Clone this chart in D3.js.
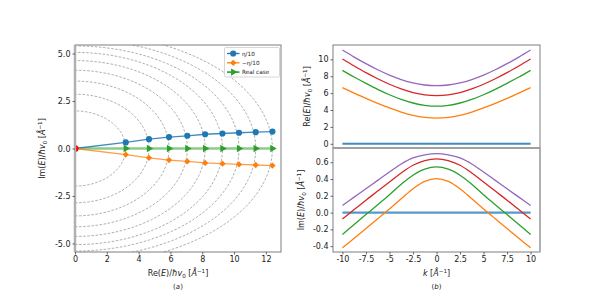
<!DOCTYPE html>
<html>
<head>
<meta charset="utf-8">
<script src="https://cdn.jsdelivr.net/npm/d3@7"></script>
<style>
  body { margin: 0; background: #fff; }
  text { font-family: "DejaVu Sans", sans-serif; fill: #222; }
</style>
</head>
<body>
<div class="chart"></div>
<script>
// left panel: complex energies
var reE = [0, 3.19, 4.65, 5.91, 7.06, 8.18, 9.27, 10.31, 11.36, 12.41];
var imPlus = [0, 0.32, 0.49, 0.60, 0.67, 0.75, 0.79, 0.83, 0.86, 0.89];
var imMinus = [0, -0.32, -0.49, -0.61, -0.68, -0.76, -0.80, -0.84, -0.87, -0.90];
var imReal = [0, 0, 0, 0, 0, 0, 0, 0, 0, 0];
// dashed guide curves: crossing on Re axis and on Im axis
var guideRe = [3.19, 4.65, 5.91, 7.06, 8.18, 9.27, 10.31, 11.36, 12.41];
var guideIm = [1.98, 2.86, 3.55, 4.12, 4.63, 5.06, 5.40, 5.75, 6.10];
var leftXTicks = [0, 2, 4, 6, 8, 10, 12];
var leftYTicks = [-5, -2.5, 0, 2.5, 5];
var legendLabels = ["η/10", "−η/10", "Real case"];

// right panels: bands vs k
var kVals = [-10, -8.75, -7.5, -6.25, -5, -3.75, -2.5, -1.25, 0, 1.25, 2.5, 3.75, 5, 6.25, 7.5, 8.75, 10];
var reBand0 = [0, 0, 0, 0, 0, 0, 0, 0, 0, 0, 0, 0, 0, 0, 0, 0, 0];
var reBand1 = [6.65, 6.00, 5.37, 4.78, 4.24, 3.76, 3.37, 3.12, 3.03, 3.12, 3.37, 3.76, 4.24, 4.78, 5.37, 6.00, 6.65];
var reBand2 = [8.70, 7.91, 7.16, 6.45, 5.81, 5.26, 4.83, 4.55, 4.45, 4.55, 4.83, 5.26, 5.81, 6.45, 7.16, 7.91, 8.70];
var reBand3 = [10.04, 9.21, 8.42, 7.70, 7.05, 6.50, 6.07, 5.80, 5.71, 5.80, 6.07, 6.50, 7.05, 7.70, 8.42, 9.21, 10.04];
var reBand4 = [11.10, 10.27, 9.49, 8.77, 8.14, 7.61, 7.21, 6.96, 6.88, 6.96, 7.21, 7.61, 8.14, 8.77, 9.49, 10.27, 11.10];
var imBand0 = [0, 0, 0, 0, 0, 0, 0, 0, 0, 0, 0, 0, 0, 0, 0, 0, 0];
var imBand1 = [-0.420, -0.306, -0.190, -0.074, 0.042, 0.164, 0.284, 0.372, 0.404, 0.372, 0.284, 0.164, 0.042, -0.074, -0.190, -0.306, -0.420];
var imBand2 = [-0.260, -0.142, -0.024, 0.093, 0.212, 0.338, 0.446, 0.518, 0.544, 0.518, 0.446, 0.338, 0.212, 0.093, -0.024, -0.142, -0.260];
var imBand3 = [-0.076, 0.036, 0.148, 0.256, 0.364, 0.472, 0.564, 0.620, 0.640, 0.620, 0.564, 0.472, 0.364, 0.256, 0.148, 0.036, -0.076];
var imBand4 = [0.084, 0.184, 0.284, 0.384, 0.484, 0.580, 0.652, 0.688, 0.704, 0.688, 0.652, 0.580, 0.484, 0.384, 0.284, 0.184, 0.084];
var kTicks = [-10, -7.5, -5, -2.5, 0, 2.5, 5, 7.5, 10];
var reTicks = [0, 2, 4, 6, 8, 10];
var imTicks = [-0.4, -0.2, 0, 0.2, 0.4, 0.6];

var blue = '#1f77b4', orange = '#ff7f0e', green = '#2ca02c', red = '#d62728', purple = '#9467bd';
var bandColors = [blue, orange, green, red, purple];

var width = 600;
var height = 300;
var fs = 8;

var svg = d3.select(".chart")
    .append("svg")
    .attr("width", width)
    .attr("height", height);

var fmt1 = function (d) { return d3.format(".1f")(d).replace("−", "-"); };

// math-ish label: parts = [text, style] ; style: i italic, sub, sup
function mathText(t, parts) {
    var shift = 0;
    parts.forEach(function (p) {
        var ts = t.append("tspan").text(p[0]);
        var s = p[1] || "";
        var target = s == "sub" ? 2 : (s == "sup" ? -3.3 : 0);
        if (target != shift) { ts.attr("dy", target - shift); shift = target; }
        if (s == "i") ts.style("font-style", "italic");
        if (target != 0) ts.style("font-size", "5.6px");
    });
}
function labelParts(prefix) {
    return [[prefix + "("], ["E", "i"], [")/"], ["ħv", "i"], ["0", "sub"], [" ["], ["Å", "i"], ["−1", "sup"], ["]"]];
}

function drawFrame(g, x0, y0, w, h, thickLeft, thickRight, thickTop) {
    g.append("rect").attr("x", x0).attr("y", y0).attr("width", w).attr("height", h)
        .style("fill", "none").style("stroke", "#707070").style("stroke-width", 0.9);
    if (thickLeft) g.append("line").attr("x1", x0).attr("x2", x0).attr("y1", y0).attr("y2", y0 + h)
        .style("stroke", "#b0b0b0").style("stroke-width", 2.5);
    if (thickRight) g.append("line").attr("x1", x0 + w).attr("x2", x0 + w).attr("y1", y0).attr("y2", y0 + h)
        .style("stroke", "#b0b0b0").style("stroke-width", 2);
    if (thickTop) g.append("line").attr("x1", x0).attr("x2", x0 + w).attr("y1", y0).attr("y2", y0)
        .style("stroke", "#a0a0a0").style("stroke-width", 2);
}

function styleAxis(g) {
    g.select(".domain").remove();
    g.selectAll(".tick line").style("stroke", "#444").style("stroke-width", 0.8);
    g.selectAll(".tick text").style("font-size", fs + "px").style("fill", "#222")
        .style("font-family", "DejaVu Sans");
}

// ---------------- LEFT PANEL ----------------
var L = { x: 75, y: 45, w: 206, h: 207 };
var xL = d3.scaleLinear().domain([0, 12.95]).range([L.x, L.x + L.w]);
var yL = d3.scaleLinear().domain([-5.45, 5.45]).range([L.y + L.h, L.y]);

svg.append("clipPath").attr("id", "clipL").append("rect")
    .attr("x", L.x).attr("y", L.y).attr("width", L.w).attr("height", L.h);

var gL = svg.append("g").attr("clip-path", "url(#clipL)");

// dashed guides
var guideLine = d3.line().x(function (d) { return xL(d[0]); }).y(function (d) { return yL(d[1]); });
guideRe.forEach(function (a, i) {
    var b = guideIm[i];
    var pts = d3.range(-90, 90.5, 1.5).map(function (deg) {
        var t = deg * Math.PI / 180;
        return [a * Math.cos(t), b * Math.sin(t)];
    });
    gL.append("path").attr("d", guideLine(pts))
        .style("fill", "none").style("stroke", "#8a8a8a").style("stroke-width", 0.7)
        .style("stroke-dasharray", "2.5,1.6");
});

var lineL = d3.line().x(function (d) { return xL(d[0]); }).y(function (d) { return yL(d[1]); });
function zipE(im) { return reE.map(function (r, i) { return [r, im[i]]; }); }

var circleSym = d3.symbol().type(d3.symbolCircle).size(30);
var diamondSym = d3.symbol().type(d3.symbolSquare).size(20);
var triSym = d3.symbol().type(d3.symbolTriangle).size(24);

// green real case
gL.append("path").attr("d", lineL(zipE(imReal)))
    .style("fill", "none").style("stroke", green).style("stroke-opacity", 0.55).style("stroke-width", 2.6);
gL.selectAll(".mreal").data(zipE(imReal).slice(1)).enter().append("path")
    .attr("d", triSym)
    .attr("transform", function (d) { return "translate(" + xL(d[0]) + "," + yL(d[1]) + ") rotate(90)"; })
    .style("fill", green);

// blue eta/10
gL.append("path").attr("d", lineL(zipE(imPlus)))
    .style("fill", "none").style("stroke", blue).style("stroke-opacity", 0.85).style("stroke-width", 1.3);
gL.selectAll(".mplus").data(zipE(imPlus).slice(1)).enter().append("path")
    .attr("d", circleSym)
    .attr("transform", function (d) { return "translate(" + xL(d[0]) + "," + yL(d[1]) + ")"; })
    .style("fill", blue);

// orange -eta/10
gL.append("path").attr("d", lineL(zipE(imMinus)))
    .style("fill", "none").style("stroke", orange).style("stroke-opacity", 0.75).style("stroke-width", 1.3);
gL.selectAll(".mminus").data(zipE(imMinus).slice(1)).enter().append("path")
    .attr("d", diamondSym)
    .attr("transform", function (d) { return "translate(" + xL(d[0]) + "," + yL(d[1]) + ") rotate(45)"; })
    .style("fill", orange);

// red origin
gL.append("circle").attr("cx", xL(reE[0])).attr("cy", yL(imReal[0])).attr("r", 3.6).style("fill", "red");

drawFrame(svg, L.x, L.y, L.w, L.h, true, false, false);

var axLx = svg.append("g").attr("transform", "translate(0," + (L.y + L.h) + ")")
    .call(d3.axisBottom(xL).tickValues(leftXTicks).tickSize(2.5).tickPadding(2).tickFormat(d3.format("d")));
styleAxis(axLx);
var axLy = svg.append("g").attr("transform", "translate(" + L.x + ",0)")
    .call(d3.axisLeft(yL).tickValues(leftYTicks).tickSize(2.5).tickPadding(2).tickFormat(fmt1));
styleAxis(axLy);

mathText(svg.append("text").attr("x", L.x + L.w / 2).attr("y", 276).attr("text-anchor", "middle")
    .style("font-size", fs + "px"), labelParts("Re"));
mathText(svg.append("text").attr("transform", "translate(45," + (L.y + L.h / 2) + ") rotate(-90)")
    .attr("text-anchor", "middle").style("font-size", fs + "px"), labelParts("Im"));
mathText(svg.append("text").attr("x", L.x + L.w / 2).attr("y", 289).attr("text-anchor", "middle")
    .style("font-size", "7px"), [["("], ["a", "i"], [")"]]);

// legend
var lg = svg.append("g");
lg.append("rect").attr("x", 224.5).attr("y", 47.5).attr("width", 55).attr("height", 29.5).attr("rx", 1.5)
    .style("fill", "#fff").style("fill-opacity", 0.8).style("stroke", "#cccccc").style("stroke-width", 0.8);
var legColors = [blue, orange, green];
var legSyms = [circleSym, diamondSym, triSym];
var legRot = [0, 45, 90];
legendLabels.forEach(function (lab, i) {
    var yy = 53.5 + i * 9.3;
    lg.append("line").attr("x1", 227).attr("x2", 239.5).attr("y1", yy).attr("y2", yy)
        .style("stroke", legColors[i]).style("stroke-width", i == 2 ? 1.6 : 1.3);
    lg.append("path").attr("d", legSyms[i])
        .attr("transform", "translate(233.2," + yy + ") rotate(" + legRot[i] + ")")
        .style("fill", legColors[i]);
    lg.append("text").attr("x", 242).attr("y", yy + 2).text(lab).style("font-size", "5.7px");
});

// ---------------- RIGHT PANELS ----------------
var R = { x: 333, w: 207 };
var T = { y: 45, h: 103 };
var B = { y: 148, h: 104 };
var xR = d3.scaleLinear().domain([-11, 11]).range([R.x, R.x + R.w]);
var yT = d3.scaleLinear().domain([-0.5, 11.7]).range([T.y + T.h, T.y]);
var yB = d3.scaleLinear().domain([-0.47, 0.77]).range([B.y + B.h, B.y]);

var reBands = [reBand0, reBand1, reBand2, reBand3, reBand4];
var imBands = [imBand0, imBand1, imBand2, imBand3, imBand4];

function bandLine(yScale) {
    return d3.line().curve(d3.curveCatmullRom)
        .x(function (d, i) { return xR(kVals[i]); })
        .y(function (d) { return yScale(d); });
}

var gT = svg.append("g");
reBands.forEach(function (band, i) {
    gT.append("path").attr("d", bandLine(yT)(band))
        .style("fill", "none").style("stroke", bandColors[i])
        .style("stroke-width", i == 0 ? 2 : 1.3).style("stroke-opacity", i == 0 ? 0.85 : 1);
});
var gB = svg.append("g");
imBands.forEach(function (band, i) {
    gB.append("path").attr("d", bandLine(yB)(band))
        .style("fill", "none").style("stroke", bandColors[i])
        .style("stroke-width", i == 0 ? 2.2 : 1.3).style("stroke-opacity", i == 0 ? 0.75 : 1);
});

drawFrame(svg, R.x, T.y, R.w, T.h, false, false, false);
drawFrame(svg, R.x, B.y, R.w, B.h, false, true, true);

var axTy = svg.append("g").attr("transform", "translate(" + R.x + ",0)")
    .call(d3.axisLeft(yT).tickValues(reTicks).tickSize(2.5).tickPadding(2).tickFormat(d3.format("d")));
styleAxis(axTy);
var axBy = svg.append("g").attr("transform", "translate(" + R.x + ",0)")
    .call(d3.axisLeft(yB).tickValues(imTicks).tickSize(2.5).tickPadding(2).tickFormat(fmt1));
styleAxis(axBy);
var axBx = svg.append("g").attr("transform", "translate(0," + (B.y + B.h) + ")")
    .call(d3.axisBottom(xR).tickValues(kTicks).tickSize(2.5).tickPadding(2).tickFormat(function (d) { return String(d); }));
styleAxis(axBx);

mathText(svg.append("text").attr("transform", "translate(310," + (T.y + T.h / 2) + ") rotate(-90)")
    .attr("text-anchor", "middle").style("font-size", fs + "px"), labelParts("Re"));
mathText(svg.append("text").attr("transform", "translate(304," + (B.y + B.h / 2) + ") rotate(-90)")
    .attr("text-anchor", "middle").style("font-size", fs + "px"), labelParts("Im"));
mathText(svg.append("text").attr("x", 436.5).attr("y", 276).attr("text-anchor", "middle")
    .style("font-size", fs + "px"), [["k", "i"], [" ["], ["Å", "i"], ["−1", "sup"], ["]"]]);
mathText(svg.append("text").attr("x", 436.5).attr("y", 289).attr("text-anchor", "middle")
    .style("font-size", "7px"), [["("], ["b", "i"], [")"]]);
</script>
</body>
</html>
